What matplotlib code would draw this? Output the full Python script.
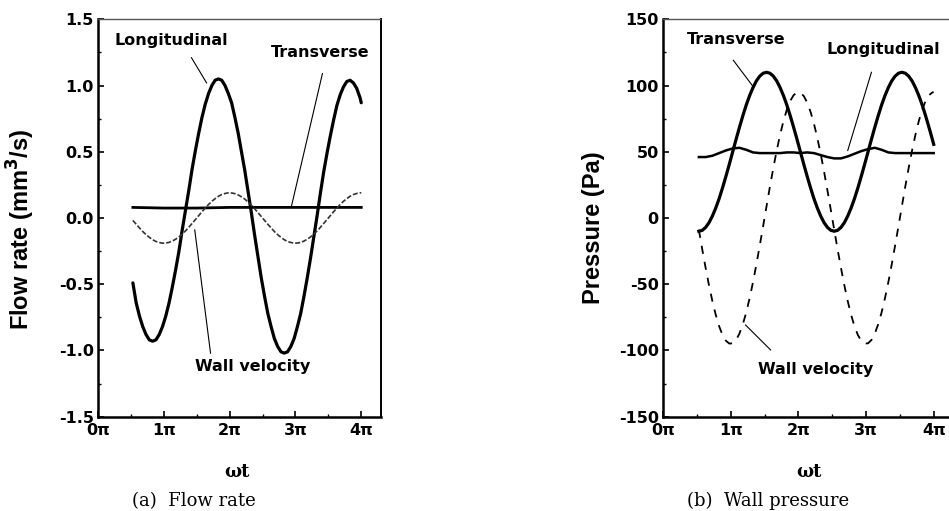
import matplotlib
matplotlib.use("Agg")
import matplotlib.pyplot as plt
from matplotlib.ticker import MultipleLocator

# ---------------- data (x in units of pi) ----------------
# fine sampling grid: 0.53, 0.58, ..., 3.98, 4.00
wt = [0.53, 0.58, 0.63, 0.68, 0.73, 0.78, 0.83, 0.88, 0.93, 0.98,
      1.03, 1.08, 1.13, 1.18, 1.23, 1.28, 1.33, 1.38, 1.43, 1.48,
      1.53, 1.58, 1.63, 1.68, 1.73, 1.78, 1.83, 1.88, 1.93, 1.98,
      2.03, 2.08, 2.13, 2.18, 2.23, 2.28, 2.33, 2.38, 2.43, 2.48,
      2.53, 2.58, 2.63, 2.68, 2.73, 2.78, 2.83, 2.88, 2.93, 2.98,
      3.03, 3.08, 3.13, 3.18, 3.23, 3.28, 3.33, 3.38, 3.43, 3.48,
      3.53, 3.58, 3.63, 3.68, 3.73, 3.78, 3.83, 3.88, 3.93, 3.98, 4.00]

# (a) Flow rate (mm^3/s)
flow_long = [-0.49, -0.64, -0.74, -0.82, -0.88, -0.92, -0.93, -0.92, -0.88, -0.82,
             -0.74, -0.64, -0.52, -0.39, -0.25, -0.09, 0.06, 0.21, 0.37, 0.51,
             0.64, 0.76, 0.86, 0.94, 1.00, 1.04, 1.05, 1.04, 1.00, 0.94,
             0.87, 0.76, 0.64, 0.50, 0.36, 0.20, 0.04, -0.13, -0.29, -0.45,
             -0.59, -0.72, -0.82, -0.91, -0.97, -1.01, -1.02, -1.01, -0.97, -0.91,
             -0.82, -0.72, -0.59, -0.45, -0.30, -0.14, 0.02, 0.19, 0.35, 0.49,
             0.62, 0.74, 0.85, 0.93, 0.99, 1.03, 1.04, 1.02, 0.98, 0.91, 0.87]
flow_wall = [-0.018, -0.047, -0.075, -0.102, -0.126, -0.146, -0.164, -0.177, -0.185, -0.190,
             -0.189, -0.184, -0.174, -0.160, -0.143, -0.121, -0.097, -0.070, -0.041, -0.012,
             0.018, 0.047, 0.075, 0.102, 0.126, 0.146, 0.164, 0.177, 0.185, 0.190,
             0.189, 0.184, 0.174, 0.160, 0.143, 0.121, 0.097, 0.070, 0.041, 0.012,
             -0.018, -0.047, -0.075, -0.102, -0.126, -0.146, -0.164, -0.177, -0.185, -0.190,
             -0.189, -0.184, -0.174, -0.160, -0.143, -0.121, -0.097, -0.070, -0.041, -0.012,
             0.018, 0.047, 0.075, 0.102, 0.126, 0.146, 0.164, 0.177, 0.185, 0.190, 0.190]
wt_trans = [0.53, 1.0, 1.5, 2.0, 2.5, 3.0, 3.5, 4.0]
flow_trans = [0.08, 0.075, 0.075, 0.08, 0.08, 0.08, 0.08, 0.08]

# (b) Wall pressure (Pa)
pres_trans = [-10, -9.3, -7.1, -3.5, 1.5, 7.6, 14.7, 22.8, 31.5, 40.6,
              50, 59.4, 68.5, 77.2, 85.3, 92.4, 98.5, 103.5, 107.1, 109.3,
              110, 109.3, 107.1, 103.5, 98.5, 92.4, 85.3, 77.2, 68.5, 59.4,
              50, 40.6, 31.5, 22.8, 14.7, 7.6, 1.5, -3.5, -7.1, -9.3,
              -10, -9.3, -7.1, -3.5, 1.5, 7.6, 14.7, 22.8, 31.5, 40.6,
              50, 59.4, 68.5, 77.2, 85.3, 92.4, 98.5, 103.5, 107.1, 109.3,
              110, 109.3, 107.1, 103.5, 98.5, 92.4, 85.3, 77.2, 68.5, 59.4, 55.6]
pres_wall = [-8.9, -23.7, -37.7, -50.9, -62.8, -73.2, -81.8, -88.4, -92.7, -94.8,
             -94.6, -92.1, -87.2, -80.2, -71.3, -60.5, -48.4, -35.0, -20.7, -6.0,
             8.9, 23.7, 37.7, 50.9, 62.8, 73.2, 81.8, 88.4, 92.7, 94.8,
             94.6, 92.1, 87.2, 80.2, 71.3, 60.5, 48.4, 35.0, 20.7, 6.0,
             -8.9, -23.7, -37.7, -50.9, -62.8, -73.2, -81.8, -88.4, -92.7, -94.8,
             -94.6, -92.1, -87.2, -80.2, -71.3, -60.5, -48.4, -35.0, -20.7, -6.0,
             8.9, 23.7, 37.7, 50.9, 62.8, 73.2, 81.8, 88.4, 92.7, 94.8, 95.0]
wt_long = [0.53, 0.63, 0.73, 0.83, 0.93, 1.03, 1.13, 1.23, 1.33, 1.43, 1.53, 1.63,
           1.73, 1.83, 1.93, 2.03, 2.13, 2.23, 2.33, 2.43, 2.53, 2.63, 2.73, 2.83,
           2.93, 3.03, 3.13, 3.23, 3.33, 3.43, 3.53, 3.63, 3.73, 3.83, 3.93, 4.00]
pres_long = [46, 46, 47, 49, 51, 52.5, 53, 51.5, 49.5, 49,
             49, 49, 49, 49.5, 49.5, 49, 49.5, 49, 47.5, 46,
             45, 45, 46.5, 48.5, 50.5, 52, 53, 51.5, 49.5, 49,
             49, 49, 49, 49, 49, 49]

x_ticks = [0, 1, 2, 3, 4]
x_ticklabels = ["0π", "1π", "2π", "3π", "4π"]
left_yticks = [-1.5, -1.0, -0.5, 0.0, 0.5, 1.0, 1.5]
left_yticklabels = ["-1.5", "-1.0", "-0.5", "0.0", "0.5", "1.0", "1.5"]
right_yticks = [-150, -100, -50, 0, 50, 100, 150]
right_yticklabels = ["-150", "-100", "-50", "0", "50", "100", "150"]

# ---------------- figure ----------------
W, H = 949, 511
fig = plt.figure(figsize=(W / 100, H / 100), dpi=100)

axL = fig.add_axes([98 / W, 1 - 416.7 / H, 283 / W, 397.4 / H])
axR = fig.add_axes([663 / W, 1 - 416.7 / H, 291 / W, 397.4 / H])

tick_font = dict(fontsize=11.5, fontweight="bold")


def style(ax, yticks, yticklabels, yminor, ylim):
    ax.set_xlim(0, 4.3)
    ax.set_ylim(*ylim)
    ax.set_xticks(x_ticks)
    ax.set_xticklabels(x_ticklabels, **tick_font)
    ax.set_yticks(yticks)
    ax.set_yticklabels(yticklabels, **tick_font)
    ax.xaxis.set_minor_locator(MultipleLocator(0.5))
    ax.yaxis.set_minor_locator(MultipleLocator(yminor))
    ax.tick_params(which="major", direction="in", length=4, width=1.2,
                   top=False, right=False)
    ax.tick_params(axis="x", which="major", pad=4.5)
    ax.tick_params(axis="y", which="major", pad=3)
    ax.tick_params(which="minor", direction="in", length=2.5, width=1.0,
                   top=False, right=False)
    ax.spines["left"].set_linewidth(1.8)
    ax.spines["bottom"].set_linewidth(1.8)
    ax.spines["top"].set_linewidth(1.0)
    ax.spines["top"].set_color("#555555")
    ax.spines["top"].set_linestyle((0, (1, 1)))
    ax.spines["right"].set_linewidth(1.4)


label_font = dict(fontsize=17, fontweight="bold", family="Liberation Sans")
xlabel_font = dict(fontsize=13, fontweight="bold", family="DejaVu Serif")
ann = dict(fontsize=11.5, fontweight="bold", ha="center", va="center")

# ---- (a) Flow rate ----
axL.plot(wt, flow_long, color="black", lw=2.3, solid_capstyle="round")
axL.plot(wt_trans, flow_trans, color="black", lw=2.0)
axL.plot(wt, flow_wall, color="#333333", lw=1.2, linestyle=(0, (3, 1.2)))
style(axL, left_yticks, left_yticklabels, 0.25, (-1.5, 1.5))

axL.text(1.11, 1.34, "Longitudinal", **ann)
axL.plot([1.42, 1.65], [1.21, 1.02], color="black", lw=0.8)
axL.text(3.38, 1.25, "Transverse", **ann)
axL.plot([3.41, 2.94], [1.09, 0.09], color="black", lw=0.8)
axL.text(2.35, -1.12, "Wall velocity", **ann)
axL.plot([1.71, 1.47], [-1.02, -0.09], color="black", lw=0.8)

axL.set_ylabel("Flow rate (mm$^\\mathbf{3}$/s)", **label_font)
axL.yaxis.set_label_coords(-0.216, 0.472)
axL.set_xlabel("ωt", **xlabel_font)
axL.xaxis.set_label_coords(0.49, -0.1165)

# ---- (b) Wall pressure ----
axR.plot(wt, pres_trans, color="black", lw=2.3)
axR.plot(wt_long, pres_long, color="black", lw=1.8)
axR.plot(wt, pres_wall, color="black", lw=1.3, linestyle=(0, (4.5, 4.5)))
style(axR, right_yticks, right_yticklabels, 25, (-150, 150))

axR.text(1.08, 135, "Transverse", **ann)
axR.plot([1.04, 1.32], [119, 100], color="black", lw=0.8)
axR.text(3.26, 127, "Longitudinal", **ann)
axR.plot([3.08, 2.73], [110, 51], color="black", lw=0.8)
axR.text(2.25, -114.7, "Wall velocity", **ann)
axR.plot([1.59, 1.22], [-99.6, -80.8], color="black", lw=0.8)

axR.set_ylabel("Pressure (Pa)", **label_font)
axR.yaxis.set_label_coords(-0.20, 0.476)
axR.set_xlabel("ωt", **xlabel_font)
axR.xaxis.set_label_coords(0.502, -0.1165)

# ---- captions ----
fig.text(194 / W, 1 - 501 / H, "(a)  Flow rate", family="DejaVu Serif",
         fontsize=13, ha="center", va="center")
fig.text(768.5 / W, 1 - 501 / H, "(b)  Wall pressure", family="DejaVu Serif",
         fontsize=13, ha="center", va="center")

fig.savefig("out.png", dpi=100)
